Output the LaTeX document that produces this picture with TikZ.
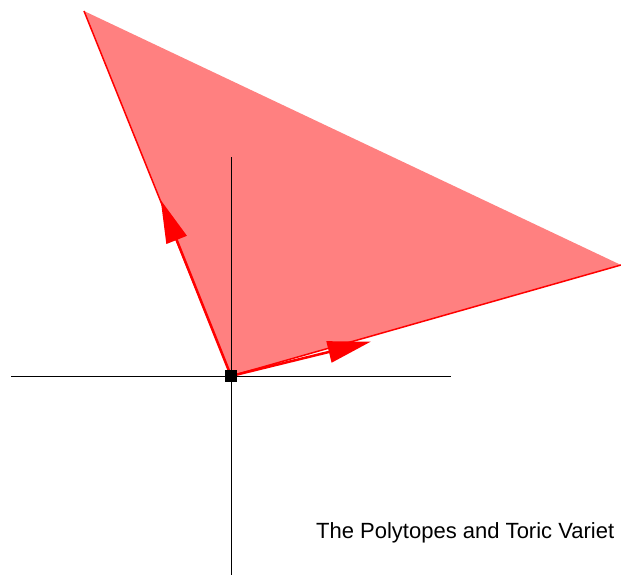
\documentclass[tikz,border=0pt]{standalone}
\usepackage{fontspec}
\setmainfont{Liberation Sans}
\usetikzlibrary{arrows.meta}
\begin{document}
\begin{tikzpicture}[x=1pt,y=-1pt,
  axis/.style={black,line width=1pt},
  edge/.style={red,line width=1.5pt},
  vec/.style={red,line width=2.5pt,-{Triangle[length=43pt,width=21.5pt]}},
  lbl/.style={font=\fontsize{22pt}{26pt}\selectfont,anchor=base west,inner sep=0pt}]
\useasboundingbox (0,0) rectangle (621,575);
\coordinate (O) at (231,376);
\coordinate (A) at (84,11);
\coordinate (B) at (621,265);
\coordinate (xl) at (11,376);
\coordinate (xr) at (451,376);
\coordinate (yt) at (231,157);
\coordinate (yb) at (231,575);
\coordinate (u) at (160.7,200);
\coordinate (v) at (370.7,341.7);
\fill[red!50] (O) -- (A) -- (B) -- cycle;
\draw[edge] (A) -- (O) -- (B);
\draw[axis] (xl) -- (xr);
\draw[axis] (yt) -- (yb);
\draw[vec] (O) -- (u);
\draw[vec] (O) -- (v);
\node[fill=black,minimum size=11.5pt,inner sep=0pt] (o) at (O) {};
\node[lbl] (t) at (316,538) {The Polytopes and Toric Variet};
\end{tikzpicture}
\end{document}
